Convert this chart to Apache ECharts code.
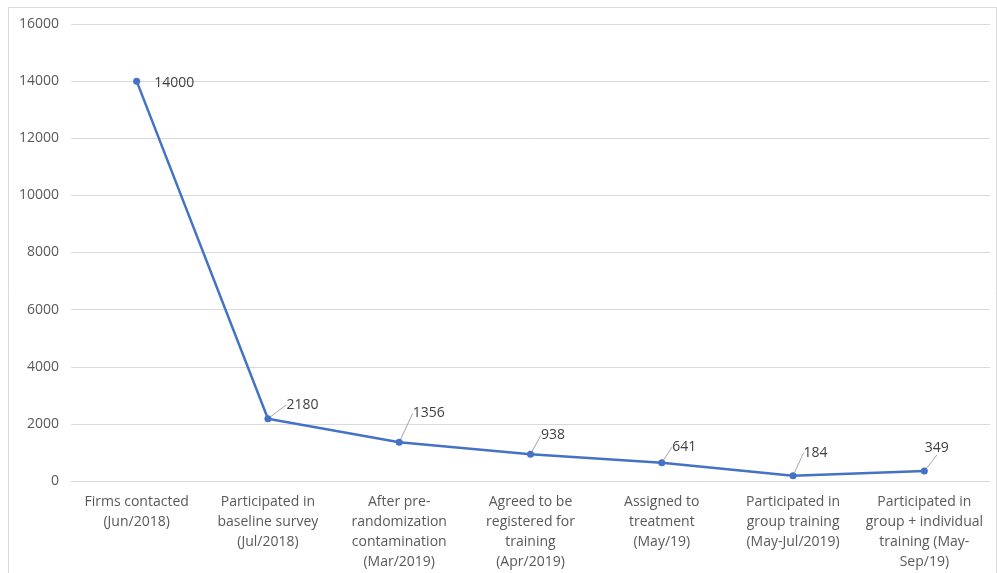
<!DOCTYPE html>
<html>
<head>
<meta charset="utf-8">
<script src="https://cdn.jsdelivr.net/npm/echarts@6/dist/echarts.min.js"></script>
<style>
  html, body { margin: 0; padding: 0; background: #ffffff; }
  #chart { width: 997px; height: 573px; }
</style>
</head>
<body>
<div id="chart"></div>
<script>
// Funnel of firms through the programme stages
const categories = [
  'Firms contacted\n(Jun/2018)',
  'Participated in\nbaseline survey\n(Jul/2018)',
  'After pre-\nrandomization\ncontamination\n(Mar/2019)',
  'Agreed to be\nregistered for\ntraining\n(Apr/2019)',
  'Assigned to\ntreatment\n(May/19)',
  'Participated in\ngroup training\n(May-Jul/2019)',
  'Participated in\ngroup + individual\ntraining (May-\nSep/19)'
];
const firmCounts = [14000, 2180, 1356, 938, 641, 184, 349];
const yTicks = { min: 0, max: 16000, interval: 2000 };

// label nudges (px) from the default right-hand position
const labelNudge = [[9, 2], [10, -14], [5, -29], [2, -19], [2, -16], [2, -23], [-8, -23]];
// leader lines are drawn only where the label sits away from its point
const showLeader = [false, true, true, true, true, true, true];

const font = '"Open Sans", sans-serif';
const chart = echarts.init(document.getElementById('chart'), null, { renderer: 'canvas' });

chart.setOption({
  backgroundColor: '#ffffff',
  animation: false,
  graphic: [{
    type: 'rect',
    shape: { x: 8.5, y: 7.5, width: 988, height: 570 },
    style: { fill: 'none', stroke: '#d9d9d9', lineWidth: 1 },
    silent: true
  }],
  grid: { left: 71, right: 7, top: 24, bottom: 92, containLabel: false },
  xAxis: {
    type: 'category',
    data: categories,
    boundaryGap: true,
    axisLine: { show: true, lineStyle: { color: '#d9d9d9', width: 1 } },
    axisTick: { show: false },
    axisLabel: {
      interval: 0,
      margin: 11,
      color: '#595959',
      fontFamily: font,
      fontSize: 14,
      lineHeight: 20
    }
  },
  yAxis: {
    type: 'value',
    min: yTicks.min,
    max: yTicks.max,
    interval: yTicks.interval,
    axisLine: { show: false },
    axisTick: { show: false },
    splitLine: { lineStyle: { color: '#d9d9d9', width: 1 } },
    axisLabel: {
      margin: 12,
      color: '#595959',
      fontFamily: font,
      fontSize: 14,
      formatter: function (v) { return String(v); }
    }
  },
  series: [{
    type: 'line',
    data: firmCounts.map(function (v, i) {
      return { value: v, labelLine: { show: showLeader[i] } };
    }),
    color: '#4472c4',
    lineStyle: { width: 2.5, color: '#4472c4' },
    symbol: 'circle',
    symbolSize: 7,
    itemStyle: { color: '#4472c4' },
    label: {
      show: true,
      position: 'right',
      distance: 5,
      color: '#404040',
      fontFamily: font,
      fontSize: 14
    },
    labelLine: {
      show: true,
      lineStyle: { color: '#a6a6a6', width: 1 }
    },
    labelLayout: function (params) {
      const n = labelNudge[params.dataIndex];
      return { dx: n[0], dy: n[1] };
    }
  }]
});
</script>
</body>
</html>
